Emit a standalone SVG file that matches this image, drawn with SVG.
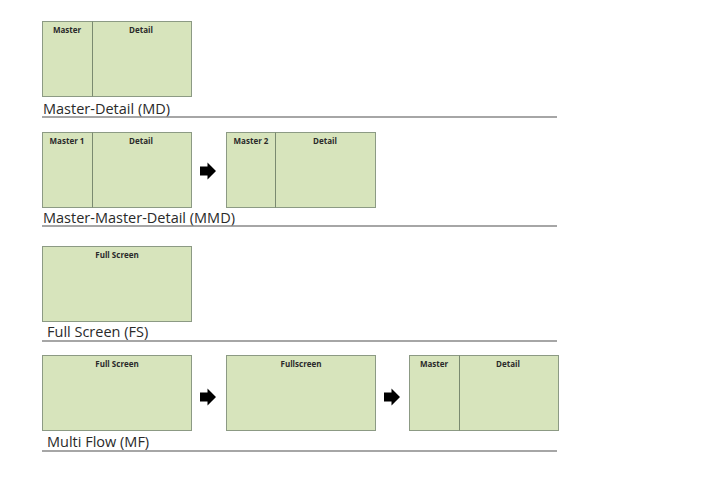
<svg xmlns="http://www.w3.org/2000/svg" width="709" height="480" viewBox="0 0 709 480">
<defs>
<style>
.box{fill:#d7e4bc;stroke:#8c9a84;stroke-width:1}
.div{stroke:#7a8a70;stroke-width:1}
.lbl{font-family:"Open Sans","Liberation Sans",sans-serif;font-size:8px;font-weight:bold;fill:#2a2a2a;text-anchor:middle}
.ttl{font-family:"Open Sans","Liberation Sans",sans-serif;font-size:14.5px;fill:#2a2a2a}
.rule{stroke:#888;stroke-width:1.5}
.arr{fill:#000}
</style>
<path id="arrow" d="M0,-4.5 H7.5 V-8.5 L16,0 L7.5,8.5 V4.5 H0 Z"/>
</defs>
<rect width="709" height="480" fill="#fff"/>
<g id="md">
<rect class="box" x="42.5" y="21.5" width="149" height="75"/>
<line class="div" x1="92.5" y1="21.5" x2="92.5" y2="96.5"/>
<text class="lbl" x="67" y="33">Master</text>
<text class="lbl" x="141" y="33">Detail</text>
<text class="ttl" x="43" y="114">Master-Detail (MD)</text>
<line class="rule" x1="42" y1="117" x2="557" y2="117"/>
</g>
<g id="mmd1">
<rect class="box" x="42.5" y="132.5" width="149" height="75"/>
<line class="div" x1="92.5" y1="132.5" x2="92.5" y2="207.5"/>
<text class="lbl" x="67" y="144">Master 1</text>
<text class="lbl" x="141" y="144">Detail</text>
</g>
<g id="mmd2">
<rect class="box" x="226.5" y="132.5" width="149" height="75"/>
<line class="div" x1="275.5" y1="132.5" x2="275.5" y2="207.5"/>
<text class="lbl" x="251" y="144">Master 2</text>
<text class="lbl" x="325" y="144">Detail</text>
</g>
<g id="mmd-title">
<text class="ttl" x="43" y="223">Master-Master-Detail (MMD)</text>
<line class="rule" x1="42" y1="226" x2="557" y2="226"/>
</g>
<g id="fs">
<rect class="box" x="42.5" y="246.5" width="149" height="75"/>
<text class="lbl" x="117" y="258">Full Screen</text>
<text class="ttl" x="47" y="337">Full Screen (FS)</text>
<line class="rule" x1="42" y1="341" x2="557" y2="341"/>
</g>
<g id="mf1">
<rect class="box" x="42.5" y="355.5" width="149" height="75"/>
<text class="lbl" x="117" y="367">Full Screen</text>
</g>
<g id="mf2">
<rect class="box" x="226.5" y="355.5" width="149" height="75"/>
<text class="lbl" x="301" y="367">Fullscreen</text>
</g>
<g id="mf3">
<rect class="box" x="409.5" y="355.5" width="149" height="75"/>
<line class="div" x1="459.5" y1="355.5" x2="459.5" y2="430.5"/>
<text class="lbl" x="434" y="367">Master</text>
<text class="lbl" x="508" y="367">Detail</text>
</g>
<g id="mf-title">
<text class="ttl" x="47" y="447">Multi Flow (MF)</text>
<line class="rule" x1="42" y1="451" x2="557" y2="451"/>
</g>
<g id="connectors">
<use href="#arrow" class="arr" x="200" y="171"/>
<use href="#arrow" class="arr" x="200" y="397"/>
<use href="#arrow" class="arr" x="384" y="397"/>
</g>
</svg>
